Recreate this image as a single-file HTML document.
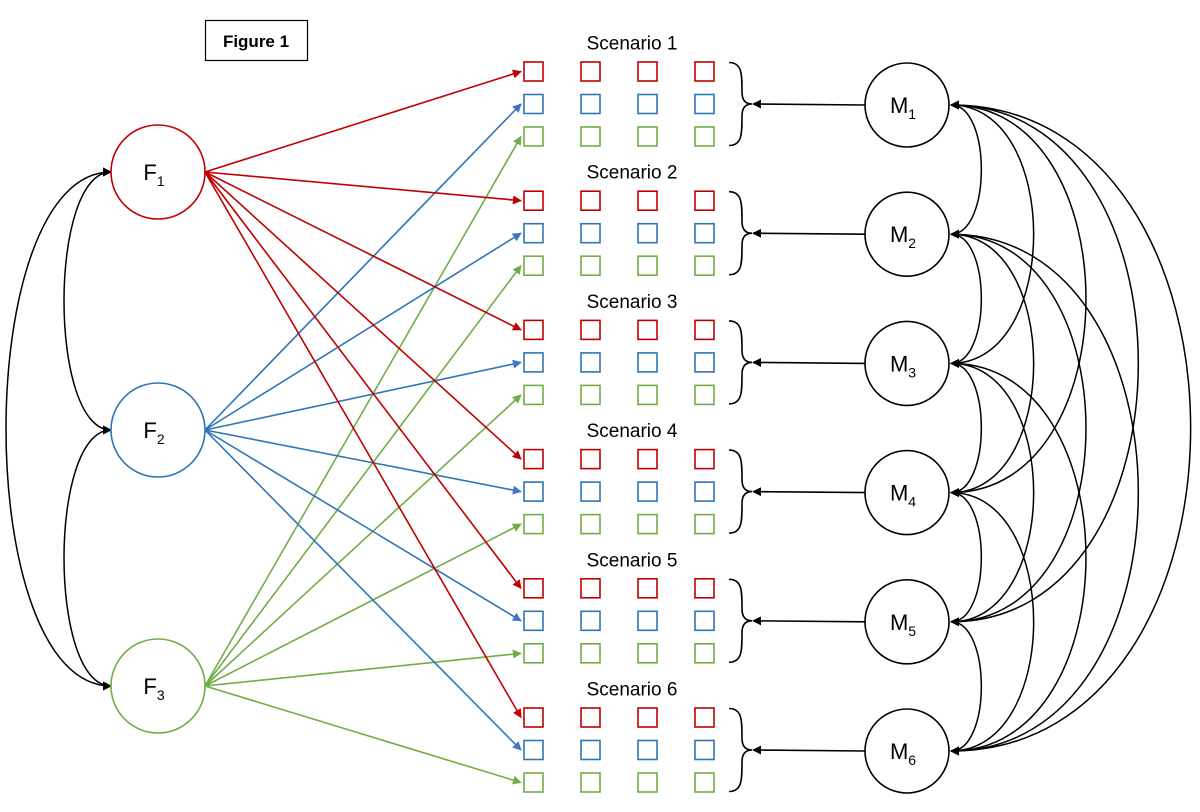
<!DOCTYPE html>
<html><head><meta charset="utf-8"><style>body{margin:0;background:#fff}svg{display:block}</style></head><body>
<svg id="s" width="1200" height="812" viewBox="0 0 1200 812" xmlns="http://www.w3.org/2000/svg" font-family="Liberation Sans, sans-serif">
<defs>
<marker id="ar" viewBox="0 0 10 10" refX="9" refY="5" markerWidth="9" markerHeight="9" markerUnits="userSpaceOnUse" orient="auto"><path d="M0,0L10,5L0,10z" fill="#c00000"/></marker>
<marker id="ab" viewBox="0 0 10 10" refX="9" refY="5" markerWidth="9" markerHeight="9" markerUnits="userSpaceOnUse" orient="auto"><path d="M0,0L10,5L0,10z" fill="#4472c4"/></marker>
<marker id="ag" viewBox="0 0 10 10" refX="9" refY="5" markerWidth="9" markerHeight="9" markerUnits="userSpaceOnUse" orient="auto"><path d="M0,0L10,5L0,10z" fill="#70ad47"/></marker>
<marker id="ak" viewBox="0 0 10 10" refX="9" refY="5" markerWidth="9" markerHeight="9" markerUnits="userSpaceOnUse" orient="auto-start-reverse"><path d="M0,0L10,5L0,10z" fill="#000"/></marker>
</defs>
<rect x="205.5" y="20.5" width="102" height="40" fill="#fff" stroke="#000" stroke-width="1.2"/>
<text x="256" y="47" font-size="17" font-weight="bold" text-anchor="middle">Figure 1</text>
<g id="g"></g>
</svg>
<script>
var g=document.getElementById('g'),ns='http://www.w3.org/2000/svg',h='';
var R='#c00000',B='#2e75b6',G='#70ad47',cols=[R,B,G],mk=['ar','ab','ag'];
var cx=[524,581,638,695];
var Fy=[172,430,686];
for(var k=0;k<6;k++){
 var y0=71.5+k*129.2;
 h+='<text x="632" y="'+(y0-22)+'" font-size="19" text-anchor="middle">Scenario '+(k+1)+'</text>';
 for(var r=0;r<3;r++){var yy=y0+r*32.5;
  for(var c=0;c<4;c++)h+='<rect x="'+cx[c]+'" y="'+(yy-9.5)+'" width="19" height="19" fill="none" stroke="'+cols[r]+'" stroke-width="1.6"/>';
  h+='<line x1="205" y1="'+Fy[r]+'" x2="521" y2="'+yy+'" stroke="'+cols[r]+'" stroke-width="1.6" marker-end="url(#'+mk[r]+')"/>';
 }
 var t=y0-9,b=y0+74,m=y0+32.5;
 h+='<path d="M729,'+t+' C742,'+t+' 742,'+(m-30)+' 742,'+(m-12)+' C742,'+(m-3)+' 746,'+m+' 752,'+m+' M752,'+m+' C746,'+m+' 742,'+(m+3)+' 742,'+(m+12)+' C742,'+(m+30)+' 742,'+b+' 729,'+b+'" fill="none" stroke="#000" stroke-width="1.6"/>';
 var My=105+k*129.2;
 h+='<line x1="865" y1="'+My+'" x2="753" y2="'+m+'" stroke="#000" stroke-width="1.6" marker-end="url(#ak)"/>';
 h+='<circle cx="907" cy="'+My+'" r="42" fill="#fff" stroke="#000" stroke-width="1.6"/>';
 h+='<text x="903" y="'+(My+8)+'" font-size="22" text-anchor="middle">M<tspan font-size="14" dy="6">'+(k+1)+'</tspan></text>';
}
for(var i=0;i<6;i++)for(var j=i+1;j<6;j++){
 var y1=105+i*129.2,y2=105+j*129.2,d=y2-y1,bb=0.405*d-22,cc=bb/0.75;
 h+='<path d="M951,'+y1+' C'+(951+cc)+','+y1+' '+(951+cc)+','+y2+' 951,'+y2+'" fill="none" stroke="#000" stroke-width="1.5" marker-start="url(#ak)" marker-end="url(#ak)"/>';
}
var fp=[[0,1,47],[1,2,47],[0,2,105]];
fp.forEach(function(p){var y1=Fy[p[0]],y2=Fy[p[1]],cc=p[2]/0.75;
 h+='<path d="M111,'+y1+' C'+(111-cc)+','+y1+' '+(111-cc)+','+y2+' 111,'+y2+'" fill="none" stroke="#000" stroke-width="1.5" marker-start="url(#ak)" marker-end="url(#ak)"/>';});
for(var r=0;r<3;r++){
 h+='<circle cx="158" cy="'+Fy[r]+'" r="47" fill="#fff" stroke="'+cols[r]+'" stroke-width="1.6"/>';
 h+='<text x="154" y="'+(Fy[r]+8)+'" font-size="22" text-anchor="middle">F<tspan font-size="14" dy="6">'+(r+1)+'</tspan></text>';
}
g.innerHTML=h;
</script>
</body></html>
